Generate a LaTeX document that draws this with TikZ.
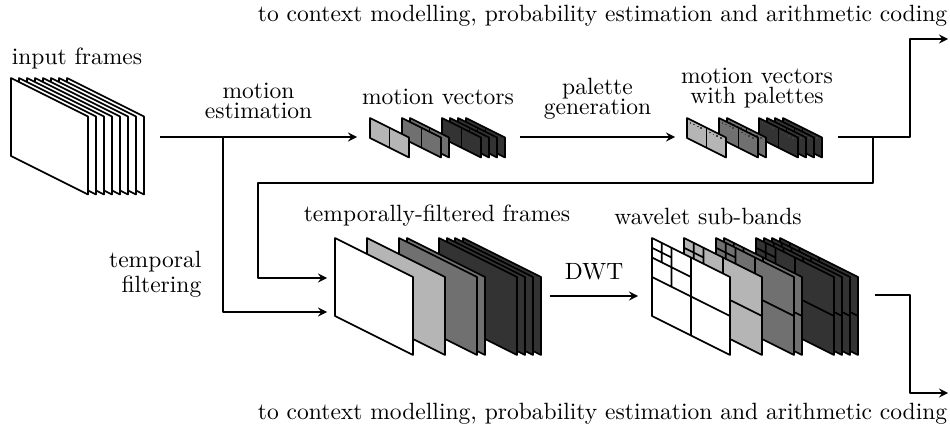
\documentclass[tikz,border=0pt]{standalone}
\usetikzlibrary{calc}

\definecolor{bandlight}{gray}{0.71}
\definecolor{bandmid}{gray}{0.44}
\definecolor{banddark}{gray}{0.2}
\definecolor{dotcol}{gray}{0.25}

% one frame: x, y (top left), width, height, fill
\newcommand{\vidframe}[5]{%
  \filldraw[fill=#5] (#1,#2) -- ++(#3,#3/2) -- ++(0,#4) -- ++(-#3,-#3/2) -- cycle;}
% motion field: two halves
\newcommand{\mvframe}[3]{%
  \vidframe{#1}{#2}{39}{20}{#3}
  \draw (#1+19.5,#2+9.75) -- ++(0,20);}
% motion field with palette entries
\newcommand{\palframe}[3]{%
  \mvframe{#1}{#2}{#3}
  \foreach \d in {0,19.5} {\foreach \k in {1,...,4}
    {\fill[dotcol] (#1+\d+3.6*\k-1,#2+\d/2+1.8*\k+2.2) rectangle ++(1.7,1.7);}}}
% frame split into sub-bands
\newcommand{\wvframe}[3]{%
  \vidframe{#1}{#2}{78}{78}{#3}
  \draw (#1+39,#2+19.5) -- ++(0,78)
        (#1,#2+39) -- ++(78,39)
        (#1+19.5,#2+9.75) -- ++(0,39)
        (#1,#2+19.5) -- ++(39,19.5)
        (#1+9.75,#2+4.875) -- ++(0,19.5)
        (#1,#2+9.75) -- ++(19.5,9.75);}

\begin{document}
\begin{tikzpicture}[x=0.425pt, y=-0.425pt, line join=round, line width=0.7pt, >=stealth]
  \useasboundingbox (0,0) rectangle (950,431);

  % input frames
  \foreach \i in {7,...,0} {\vidframe{11+8*\i}{78}{77}{78}{white}}
  \node (inlabel) at (77,58) {input frames};

  % motion vectors
  \foreach \x in {466,458,450,442} {\mvframe{\x}{118}{banddark}}
  \foreach \x in {410,402} {\mvframe{\x}{118}{bandmid}}
  \mvframe{370}{118}{bandlight}
  \node (mvlabel) at (438,97) {motion vectors};

  % motion vectors with palettes
  \foreach \x in {783,775,767,759} {\palframe{\x}{118}{banddark}}
  \foreach \x in {727,719} {\palframe{\x}{118}{bandmid}}
  \palframe{687}{118}{bandlight}
  \node[align=center, anchor=south] (pallabel) at (757,117) {motion vectors\\[-3.5pt]with palettes};

  % temporally-filtered frames
  \foreach \x in {463,455,447,439} {\vidframe{\x}{238}{78}{78}{banddark}}
  \foreach \x in {407,399} {\vidframe{\x}{238}{78}{78}{bandmid}}
  \vidframe{367}{238}{78}{78}{bandlight}
  \vidframe{335}{238}{78}{78}{white}
  \node (tflabel) at (437,216) {temporally-filtered frames};

  % wavelet sub-bands
  \foreach \x in {780,772,764,756} {\wvframe{\x}{238}{banddark}}
  \foreach \x in {724,716} {\wvframe{\x}{238}{bandmid}}
  \wvframe{684}{238}{bandlight}
  \wvframe{652}{238}{white}
  \node (wvlabel) at (708,216) {wavelet sub-bands};

  % end points of the connectors
  \coordinate (inout) at (160,137);
  \coordinate (split) at (223,137);
  \coordinate (mvin) at (357,137);
  \coordinate (mvout) at (520,137);
  \coordinate (palin) at (675,137);
  \coordinate (palout) at (838,137);
  \coordinate (back) at (873,137);
  \coordinate (tfin) at (327,312);
  \coordinate (tfin2) at (327,278);
  \coordinate (tfout) at (550,296);
  \coordinate (wvin) at (638,296);
  \coordinate (wvout) at (875,295);
  \coordinate (outtop) at (948,39);
  \coordinate (outbot) at (948,393);

  \node[anchor=east, inner sep=0pt] (toptext) at (948,16)
    {to context modelling, probability estimation and arithmetic coding};
  \node[anchor=east, inner sep=0pt] (bottext) at (948,414)
    {to context modelling, probability estimation and arithmetic coding};

  \draw[->] (inout) -- (mvin) node[midway, above, align=center, yshift=4pt] (melabel) {motion\\[-3.5pt]estimation};
  \draw[->] (split) |- (tfin);
  \node[align=right, anchor=east] (tlabel) at (210,274) {temporal\\[-1.5pt]filtering};
  \draw[->] (mvout) -- (palin) node[midway, above, align=center, yshift=4pt] (pglabel) {palette\\[-3.5pt]generation};
  \draw[->] (palout) -- ++(72,0) |- (outtop);
  \draw[->] (back) -- ++(0,46) -| ($(tfin2)+(-69,0)$) -- (tfin2);
  \draw[->] (tfout) -- (wvin) node[midway, above, yshift=3pt] (dwtlabel) {DWT};
  \draw[->] (wvout) -- ++(35,0) |- (outbot);
\end{tikzpicture}
\end{document}
